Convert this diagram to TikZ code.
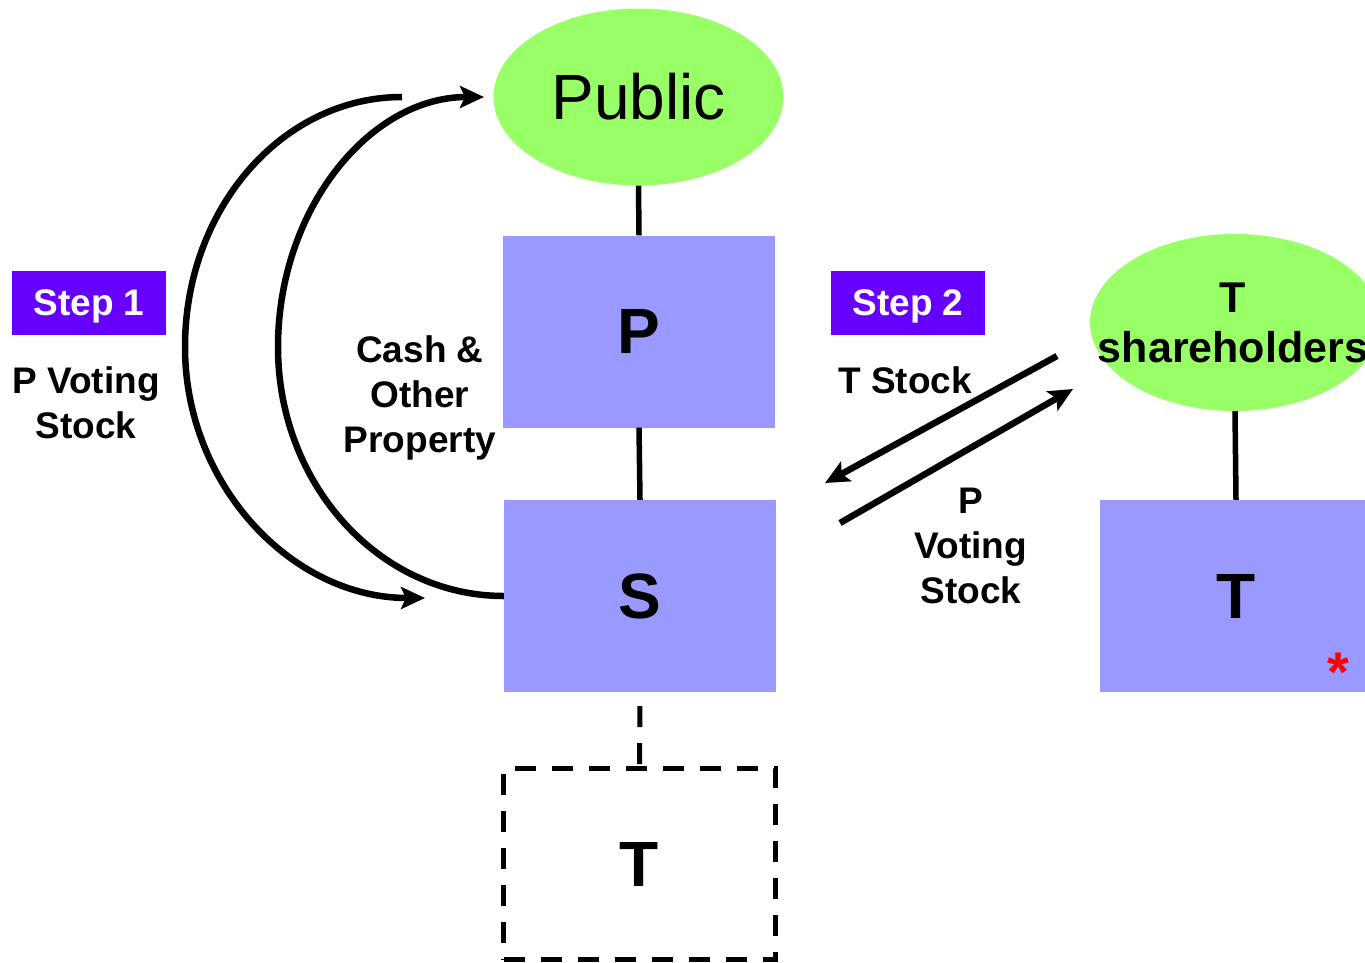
\documentclass[tikz,border=0pt]{standalone}
\usepackage{fontspec}
\setmainfont{Liberation Sans}
\usetikzlibrary{shapes.geometric,arrows.meta}
\definecolor{pubgreen}{HTML}{99FF66}
\definecolor{boxblue}{HTML}{9999FF}
\definecolor{stepviolet}{HTML}{6600FF}

\begin{document}
\begin{tikzpicture}[x=1pt,y=-1pt,
  entity/.style={rectangle, fill=boxblue, minimum width=272pt, minimum height=192pt,
    inner sep=0pt, font=\fontsize{64}{70}\selectfont\bfseries},
  group/.style={ellipse, fill=pubgreen, minimum width=290pt, minimum height=177pt, inner sep=0pt},
  steptag/.style={rectangle, fill=stepviolet, text=white, minimum width=154pt, minimum height=64pt,
    inner sep=0pt, text depth=0pt, font=\fontsize{37}{45}\selectfont\bfseries},
  lbl/.style={align=center, inner sep=0pt, font=\fontsize{37}{45}\selectfont\bfseries},
  link/.style={line width=5.5pt},
  flow/.style={line width=6.5pt, -{Stealth[length=24pt,width=22pt,inset=5pt]}},
]
\useasboundingbox (0,0) rectangle (1365,962);
\clip (0,0) rectangle (1365,962);

% companies and shareholder groups
\node[group, font=\fontsize{64}{70}\selectfont] (pub) at (638.5,97) {Public};
\node[entity] (P) at (639,331.5) {P};
\node[entity] (S) at (640,596) {S};
\node[entity, fill=none, draw, line width=5pt, dash pattern=on 21pt off 16pt,
  minimum height=191pt] (Tsub) at (639.5,864) {T};
\node[group] (tsh) at (1235,322.5) {};
\node[lbl, font=\fontsize{43}{50}\selectfont\bfseries] (tshtext) at (1233,322.5) {T\\shareholders};
\node[entity] (T) at (1236,596) {T};
\node[text=red, font=\fontsize{56}{60}\selectfont\bfseries, inner sep=0pt, anchor=base] (star) at (1338,691) {*};

% step tags and labels
\node[steptag] (step1) at (89,303) {Step 1};
\node[steptag] (step2) at (908,303) {Step 2};
\node[lbl] (lvote) at (86,403) {P Voting\\Stock};
\node[lbl] (lcash) at (420,398) {Cash \&\\Other\\Property};
\node[lbl] (ltstock) at (905,380) {T Stock};
\node[lbl] (lpvs) at (971,546) {P\\Voting\\Stock};

% ownership lines
\draw[link] (pub.south) -- (P.north);
\draw[link] (P.south) -- (S.north);
\draw[link] (tsh.south) -- (T.north);
\draw[line width=5pt, dash pattern=on 21pt off 16pt, dash phase=23pt] (S.south) -- (Tsub.north);

% step 1 transfers
\coordinate (o1) at (402,97);
\coordinate (o2) at (425,598);
\coordinate (i2) at (484,97);
\draw[flow] (o1) .. controls (282,97) and (185,209) .. (185,347)
                 .. controls (185,485) and (292,598) .. (o2);
\draw[flow] (S.west) .. controls (379,596) and (278,484) .. (278,347)
                     .. controls (278,209) and (370,97) .. (i2);

% step 2 exchange
\coordinate (a1s) at (1057,356);
\coordinate (a1e) at (825,483);
\coordinate (a2s) at (840,523);
\coordinate (a2e) at (1073,389);
\draw[flow] (a1s) -- (a1e);
\draw[flow] (a2s) -- (a2e);
\end{tikzpicture}
\end{document}
